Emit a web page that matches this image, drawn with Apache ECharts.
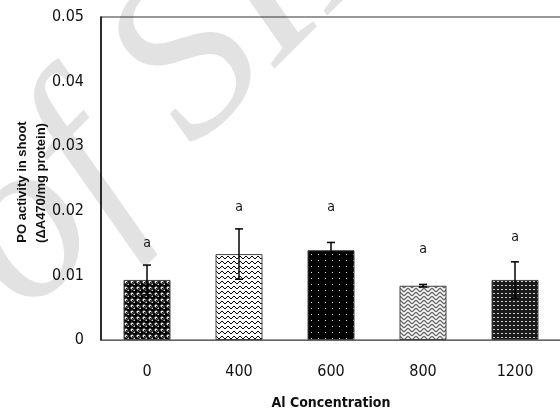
<!DOCTYPE html>
<html><head><meta charset="utf-8">
<script src="https://cdn.jsdelivr.net/npm/echarts@6/dist/echarts.min.js"></script>
<style>html,body{margin:0;padding:0;background:#fff}#c{width:560px;height:410px}</style>
</head><body><div id="c"></div>
<script>
const categories = ['0', '400', '600', '800', '1200'];
const values = [0.0093, 0.0133, 0.0139, 0.0084, 0.0093];
const errors = [0.0023, 0.0039, 0.0012, 0.0002, 0.0028];
const letters = ['a', 'a', 'a', 'a', 'a'];
const letterValues = [0.0150, 0.0206, 0.0206, 0.0141, 0.0159];
const yTicks = [0, 0.01, 0.02, 0.03, 0.04, 0.05];

const NARROW = '"Liberation Sans Narrow","DejaVu Sans Condensed","Liberation Sans",sans-serif';

function tile(w, h, draw) {
  const c = document.createElement('canvas');
  c.width = w; c.height = h;
  draw(c.getContext('2d'), w, h);
  return { image: c, repeat: 'repeat' };
}
const patterns = [
  tile(6, 6, (g) => {
    g.fillStyle = '#fff'; g.fillRect(0, 0, 6, 6);
    g.fillStyle = '#000'; g.beginPath(); g.arc(3, 3, 3.0, 0, Math.PI * 2); g.fill();
    g.fillRect(0, 0, 1, 1);
    g.fillStyle = '#fff'; g.beginPath(); g.arc(2.2, 2.2, 0.8, 0, Math.PI * 2); g.fill();
  }),
  tile(6, 5, (g) => {
    g.fillStyle = '#fff'; g.fillRect(0, 0, 6, 5);
    g.strokeStyle = '#000'; g.lineWidth = 1;
    g.beginPath(); g.moveTo(0, 1); g.lineTo(3, 4); g.lineTo(6, 1); g.stroke();
  }),
  tile(7, 6, (g) => {
    g.fillStyle = '#000'; g.fillRect(0, 0, 7, 6);
    g.fillStyle = '#ddd'; g.fillRect(3, 2, 1, 1);
  }),
  tile(8, 8, (g) => {
    g.fillStyle = '#fff'; g.fillRect(0, 0, 8, 8);
    g.strokeStyle = '#666'; g.lineWidth = 1.3;
    g.beginPath();
    for (let y = -8; y <= 16; y += 4) {
      g.moveTo(0, y); g.lineTo(4, y + 4);
      g.moveTo(4, y + 4); g.lineTo(8, y);
    }
    g.stroke();
  }),
  tile(4, 4, (g) => {
    g.fillStyle = '#1a1a1a'; g.fillRect(0, 0, 4, 4);
    g.fillStyle = '#ccc'; g.fillRect(1, 1, 2, 1);
  })
];

const chart = echarts.init(document.getElementById('c'), null, { renderer: 'canvas' });
chart.setOption({
  animation: false,
  backgroundColor: '#fff',
  graphic: [
    {
      type: 'text', z: -100, x: 65, y: 355, rotation: Math.PI / 4,
      style: { text: 'of SID', font: 'italic 230px "Liberation Serif","DejaVu Serif",serif', fill: '#e2e2e2', textVerticalAlign: 'bottom' }
    },
    {
      type: 'text', x: 22, y: 182, rotation: Math.PI / 2,
      style: { text: 'PO activity in shoot', font: 'bold 13px "Liberation Sans",Arial,sans-serif', fill: '#111', textAlign: 'center', textVerticalAlign: 'middle' }
    },
    {
      type: 'text', x: 41, y: 183, rotation: Math.PI / 2,
      style: { text: '(ΔA470/mg protein)', font: 'bold 13px "Liberation Sans",Arial,sans-serif', fill: '#111', textAlign: 'center', textVerticalAlign: 'middle' }
    }
  ],
  grid: { left: 101, right: -1, top: 17, bottom: 70, show: true, borderColor: '#333', borderWidth: 1.2, backgroundColor: 'transparent', outerBoundsMode: 'none', containLabel: false },
  xAxis: {
    type: 'category', data: categories,
    name: 'Al Concentration', nameLocation: 'middle', nameGap: 56,
    nameTextStyle: { fontFamily: NARROW, fontWeight: 'bold', fontSize: 14, color: '#111' },
    axisLine: { lineStyle: { color: '#666', width: 1.2 } },
    axisTick: { show: false },
    axisLabel: { fontFamily: NARROW, fontSize: 16, color: '#111', margin: 24, interval: 0 }
  },
  yAxis: {
    type: 'value', min: 0, max: 0.05, interval: 0.01,
    splitLine: { show: false },
    axisLine: { show: true, lineStyle: { color: '#111', width: 1.5 } },
    axisTick: { show: false },
    axisLabel: {
      fontFamily: NARROW, fontSize: 16, color: '#111', margin: 17,
      formatter: (v) => { const t = yTicks.find(k => Math.abs(k - v) < 1e-9); return t === 0 ? '0' : (t !== undefined ? t.toFixed(2) : ''); }
    }
  },
  series: [
    {
      type: 'bar', barWidth: 47, z: 2,
      data: values.map((v, i) => ({ value: v, itemStyle: { color: patterns[i], borderColor: '#444', borderWidth: 1 } }))
    },
    {
      type: 'custom', z: 3,
      data: values.map((v, i) => [i, v, errors[i]]),
      renderItem: (params, api) => {
        const i = api.value(0), v = api.value(1), e = api.value(2);
        const top = api.coord([i, v + e]), bot = api.coord([i, v - e]);
        const x = top[0], h = 4;
        const s = { stroke: '#000', lineWidth: 1.5 };
        return {
          type: 'group', children: [
            { type: 'line', shape: { x1: x, y1: top[1], x2: x, y2: bot[1] }, style: s },
            { type: 'line', shape: { x1: x - h, y1: top[1], x2: x + h, y2: top[1] }, style: s },
            { type: 'line', shape: { x1: x - h, y1: bot[1], x2: x + h, y2: bot[1] }, style: s }
          ]
        };
      }
    },
    {
      type: 'custom', z: 4,
      data: letterValues.map((v, i) => [i, v]),
      renderItem: (params, api) => {
        const p = api.coord([api.value(0), api.value(1)]);
        return { type: 'text', x: p[0], y: p[1], style: { text: letters[params.dataIndex], font: '14px ' + NARROW, fill: '#111', textAlign: 'center', textVerticalAlign: 'middle' } };
      }
    }
  ]
});
</script></body></html>
